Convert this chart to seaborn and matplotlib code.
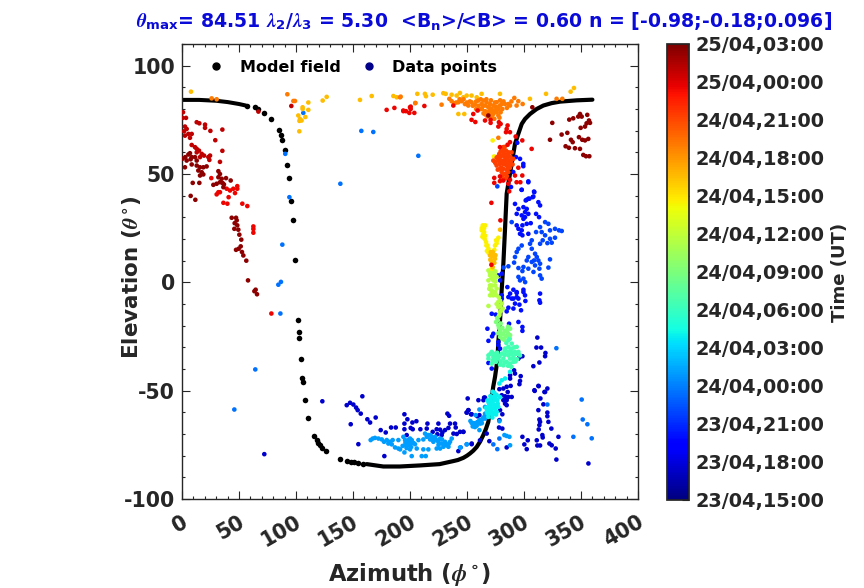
import numpy as np
import pandas as pd
import seaborn as sns
import matplotlib.pyplot as plt
from matplotlib.cm import ScalarMappable
from matplotlib.colors import Normalize
from matplotlib.lines import Line2D
from matplotlib.ticker import MultipleLocator
from matplotlib.transforms import ScaledTranslation

# model field, sparse flanks are single dots, dense parts are joined
model_dots = [(57, 81.6), (64, 80.8), (67, 80), (72.2, 78.2), (78.4, 75.4), (84.8, 70.4), (86.8, 67.9), (88, 65.8),
              (90.6, 61), (92.4, 54.2), (94.1, 48.2), (95.9, 37.6), (97.6, 28.9), (99.4, 10.4), (102, -17.2),
              (102.9, -22.9), (102.9, -25.5), (104.7, -35.6), (105.5, -44.1), (106.4, -46.2), (108.2, -54.5),
              (110.8, -62.8), (116, -71.1), (118.1, -72.8), (119.6, -74), (121, -75.3), (123, -76.4), (126.6, -78),
              (138.9, -81.7), (144.5, -82.6), (148, -82.8), (150.9, -83.1), (154.7, -83.4), (158.5, -83.7)]
model_top = [(0, 84.2), (15, 84.2), (30, 83.8), (40, 83.2), (50, 82.3), (56, 81.6)]
model_bottom = [(162, -83.9), (176.6, -85), (191, -85), (209, -84.5), (226, -83.9), (238, -82.5), (242, -82), (246.8, -81),
                (250, -80), (252.6, -79), (255.5, -77.7), (258.5, -76), (261.5, -73.5), (264.3, -70.5), (266.7, -67.5),
                (268.7, -64.4), (271, -56), (273, -48.2), (274.6, -43.6), (276.6, -36), (277.6, -26.7), (279, -17.5),
                (280.4, -3.7), (281.9, 8.6), (283.3, 24), (284.8, 40.9), (287.7, 50.1), (292.1, 63.9), (295, 68.5),
                (298, 73.1), (300.9, 75.4), (305.3, 77.7), (311.1, 80), (317, 81.6), (324.2, 82.7), (331.6, 83.4),
                (346.2, 84), (360, 84.3)]

# data points per time, hours after 23/04 15:00
navy = [(72.2, -79.3), (123.1, -54.9), (158.2, -52.6), (144.5, -56.7), (147.4, -55.6), (150.3, -56.4), (152.7, -57.8),
        (154.1, -59), (156.8, -60.6), (162.6, -63.2), (165, -64.7), (169.9, -62.4), (148, -65.5), (154.7, -74.7),
        (177.5, -80.2), (174.3, -68.2), (178.7, -69.3), (183.4, -67), (187.5, -67), (195.1, -60.9), (197.7, -63.2),
        (195.1, -65.2), (195.1, -67.8), (202.1, -64.7), (205.6, -64.1), (200.6, -67.2), (202.4, -67.8), (197.1, -70.5),
        (209.1, -67.8), (215.3, -65.2), (214.7, -67.5), (219.9, -69), (223.4, -67.8), (224.9, -65.2), (226.4, -68),
        (228.4, -69.3), (224, -70.1), (227.8, -70.5), (230.7, -68.2), (232.8, -60.6), (234.3, -61.6), (233.7, -67.2),
        (235.1, -65.2), (239.5, -65.2), (240.1, -67), (238.1, -69.8), (241, -70), (243.9, -69), (246.8, -69),
        (250.6, -53.6), (260, -54.4), (249.8, -60.1), (251.2, -59), (254.1, -60.9), (259.1, -61.8), (242.4, -77.9),
        (254.1, -74.4), (311.7, -25.5), (310.9, -30.1), (315, -30.1), (318.8, -32.6), (318.5, -34.1), (313.5, -37),
        (308.2, -38.7), (296.5, -34.4), (298.6, -34.1), (295.1, -35.2), (291.3, -40.6), (292.1, -42.1), (287.8, -42.9),
        (287.8, -44.4), (297.1, -43.3), (296.5, -45.5), (296, -47), (284.8, -48.2), (288.3, -47.8), (278.4, -49.3),
        (285.7, -50.6), (312.9, -47.9), (309.4, -50.1), (318.5, -50.6), (320.5, -49), (283.4, -52.6), (286.3, -52.9),
        (289.2, -52.9), (284.8, -53.6), (265, -53.2), (264.4, -54.4), (265.8, -53.2), (281.9, -49), (280.5, -52.1),
        (281.9, -54.4), (284.8, -54.4), (283.4, -56), (284.8, -56.7), (251.2, -59), (249.7, -60.1), (253.5, -60.9),
        (260.9, -61.3), (265, -62.4), (279, -59), (281, -60.9), (278.4, -63.6), (278.1, -67), (281, -67.5),
        (246.8, -69), (267.3, -69.8), (269.6, -73.3), (261.4, -72.9), (254.1, -74.7), (284.8, -76.2), (298.6, -71.3),
        (303.3, -72.9), (300.3, -74.8), (302.4, -77), (311.2, -72.9), (311.7, -75.3), (314.1, -75.3), (316.1, -70.5),
        (316.4, -71.6), (322.3, -74.4), (324.3, -75.2), (327.8, -76.7), (330.2, -71.3), (324, -67.5), (328.4, -81.8),
        (356.5, -83.6), (312.6, -47.8), (309.1, -49.8), (317.9, -50.6), (314.4, -53.6), (317, -56.3), (312.6, -59),
        (320.5, -60.1), (320.5, -61.8), (313.5, -63.3), (321.4, -64.4), (314.1, -64.4), (313.5, -65.9), (312.9, -67.9)]
blue5 = [(294.1, 64.4), (293, 57.8), (296.5, 57), (299.4, 54.7), (299.4, 53.6), (290.6, 50.9), (303.8, 46.6),
         (297.9, 42.7), (288.6, 44), (309, 41.6), (308.2, 39.6), (304.7, 38.6), (302.3, 38.1), (298, 42.7),
         (303.8, 46.2), (308.8, 41.9), (307.6, 39.3), (303.8, 38.6), (301.5, 37.8), (312.6, 37), (314.1, 35.5),
         (292.1, 36.2), (295.1, 33.9), (299.5, 34.7), (302.4, 33.9), (300.9, 32.4), (303.8, 31.6), (298, 30.9),
         (293.6, 31.6), (300.9, 30.1), (299.5, 29.3), (310.6, 31.6), (313.2, 30.1), (293.6, 26.3), (298.6, 26.3),
         (302.4, 27), (305.9, 27.3), (295.1, 24.7), (298, 24), (296.5, 22.4), (298.6, 21.7), (303.8, 22.4),
         (285.4, -2.2), (290.7, -3.4), (299.5, -3.4), (293.6, -4.5), (287.8, -5.2), (314.1, -5.2), (300.9, -6),
         (314.1, -9.4), (280.5, -6), (286.3, -6.8), (290.7, -7.5), (295.1, -7.5), (267.9, -21.4), (271.7, -14.5),
         (275.2, -14.9), (295.1, -18.3), (286.9, -19.1), (298.6, -20.6), (298.6, -22.4), (273.1, -23.7), (272, -24.9),
         (268.8, -27), (277.5, -27.5), (279, -30.6), (277.5, -29), (286.3, -11.7), (284.8, -13.4), (290.7, -12.1),
         (297.4, -12.9), (292.1, -9.8), (296, -10.3), (301.2, -8.6), (289.2, -7.5), (293.6, -6.8), (313.5, -8.3),
         (299.5, -4.5), (293.6, -4.9), (280.5, -7.5), (268.8, -37.2), (271.7, -39.8), (280.5, 4), (279, 0.9), (277.5, 3.2)]
blue7 = [(289.2, 27.8), (318.5, 27.8), (321.4, 27), (322.8, 24), (327.2, 24.7), (330.7, 24), (333.1, 23.7), (314.1, 25.5),
         (315.5, 23.2), (310.6, 23.2), (318.5, 21.7), (322.8, 20.1), (327.2, 20.6), (316.4, 19.4), (314.1, 17.8),
         (320.5, 18.1), (324.3, 18.3), (306.8, 19.4), (305.3, 17.8), (298, 17), (295.1, 15.5), (293.6, 14), (292.1, 11.7),
         (306.8, 15.5), (303.8, 11.7), (302.4, 10.1), (309.7, 13.2), (311.2, 11.7), (308.8, 10.1), (312.6, 10.1),
         (306.8, 9.4), (314.1, 8.6), (309.7, 7.8), (299.5, 7.1), (295.1, 6.6), (303.8, 6.3), (313.5, 6.3), (322.8, 10.6),
         (321.4, 6.8), (291.3, 9.1), (286.3, 7.4), (282, 6.8), (298.6, 5.2), (308.3, 4.8), (314.1, 3.2), (315.5, 1.7),
         (295.1, 2.5), (299.5, 1.7), (296.5, 0.9), (301, 0.1), (276.6, 44.3)]
blue9 = [(86.3, -14.4), (64.3, -40.2), (45.9, -58.7), (90.6, 59.3), (94.2, 39.3), (88, 17.4), (86.8, 0.2), (84.5, -1.1),
         (138.9, 45.5), (157.3, 69.9), (167.8, 69.4), (207.3, 58.4), (106.4, 78.2), (328.4, -30.4), (320.5, -56.4),
         (350.6, -54.1), (351.5, -63.3), (355.6, -65.5), (359.4, -72), (343.3, -71.3), (278.4, -72.1), (273.1, -74.8),
         (276.6, -77), (249.7, -74.8), (244.5, -76.2)]
sky = [(287.8, -75.2), (282.8, -70.5), (284.8, -70.9), (287.2, -71.3), (254.1, -64.9), (257.1, -65.5), (260, -64.4),
       (262.9, -63.6), (265.8, -62.9), (255.6, -65.9), (258.5, -66.2), (261.4, -65.2), (257.6, -61.3), (260.9, -58.7),
       (265.8, -57.5), (265.8, -60.6), (278.4, -64.1), (260.9, -68.2), (165.5, -72.8), (167.3, -72.1), (169.3, -71.8),
       (172.3, -72.1), (175.2, -72.5), (177.2, -73.6), (179.6, -72.8), (181, -74.4), (184, -74.8), (182.5, -73.6),
       (184.8, -72.8), (186.9, -76.2), (189.8, -76.7), (191.3, -77.1), (189.8, -72.8), (194.2, -71.3), (195.7, -72.8),
       (197.1, -73.6), (198.6, -72.8), (200, -72.1), (201.5, -72.8), (195.7, -75.2), (198.6, -75.2), (200.6, -74.4),
       (203, -74.1), (204.4, -74.7), (207.4, -72.8), (211.7, -72.5), (205.9, -76.7), (200, -77.1), (195.1, -78.5),
       (201.5, -80.2), (210.3, -80.2), (213.8, -80.2), (211.7, -77.1), (216.1, -77.1), (213.2, -69.8), (216.1, -70.5),
       (219.1, -71.3), (214.7, -71.3), (217.6, -72.5), (220.5, -73.6), (223.4, -72.8), (222, -71.3), (224.9, -73.6),
       (226.4, -72.1), (227.8, -74.4), (230.7, -73.6), (232.2, -75.2), (235.1, -73.6), (236.6, -72.1), (223.4, -76.7),
       (226.4, -76.7), (229.3, -75.9), (233.7, -75.9), (249.8, -74.7), (243.9, -76.2), (256, -65), (259, -64.5), (261, -63.5),
       (263, -65), (264, -62.5), (266, -61.5), (253, -64), (255, -66.5), (257, -66.8), (196, -74), (199, -74), (197, -76.5),
       (201, -76), (219, -72.5), (221, -72), (218, -70.5), (225, -75), (228, -72.5), (231, -75), (234, -74.5), (193.5, -75.5)]
cyan = [(287.8, -41.3), (283.4, -44.4), (280.5, -45.2), (278.4, -46.7), (270.2, -54.4), (271.7, -56), (274.6, -54.4),
        (268.8, -58.3), (271.7, -58.3), (275.5, -56.7), (276.1, -59.8), (273.1, -60.6), (270.2, -60.6), (268.8, -62.1),
        (272.3, -62.4), (277.5, -57.5), (273.1, -52.9), (276.6, -54.4), (266.7, -57.9), (274.6, -58.3), (272.5, -50.5),
        (270.5, -52.5), (268, -54.5), (273.5, -56.5), (269.5, -56.5), (269, -55.5), (270.5, -57.5), (272.5, -55), (273, -57.5),
        (274.5, -60), (271.5, -59.5), (272.5, -61), (269.5, -59), (275, -53), (274, -51), (276, -52), (271, -53.5), (268, -60.5),
        (267.5, -59.5), (275.5, -61), (277, -56), (279, -53)]
teal = [(286.3, -26.7), (289.2, -28.3), (293.6, -29.8), (283.4, -30.6), (286.3, -29.8), (289.2, -30.6), (292.1, -32.1),
        (295.1, -32.1), (296.5, -33.7), (280.5, -32.9), (276.1, -33.7), (271.7, -32.1), (268.8, -33.7), (268.8, -35.2),
        (273.1, -34.4), (277.5, -35.2), (281.9, -35.2), (286.3, -33.7), (287.8, -35.2), (290.7, -34.4), (284.8, -36.7),
        (281.9, -38.3), (287.8, -37.5), (290.7, -36.7), (271.7, -37.5), (275.5, -36.7), (270.5, -33), (272.5, -36), (274, -33),
        (275, -35), (276.5, -32.5), (278.5, -34), (279.5, -36.5), (283, -33.5), (283, -31.5), (285, -32), (288, -31.5), (290, -32.5),
        (291.5, -30), (293, -33), (294, -35.5), (288.5, -33), (284.5, -28), (287.5, -26), (285.5, -24.5), (283, -37), (279, -38),
        (289, -39), (286, -38.5), (291, -35.5), (292.5, -36.5)]
green = [(275.5, -18.3), (277.5, -19.8), (279, -22.1), (280.5, -23.7), (284.8, -22.1), (287.8, -21.4), (287.8, -24.4),
         (279, -25.2), (276.5, -16.5), (282.5, -26.5), (277, -17.5), (278, -21), (279.5, -19), (281, -21), (282, -24), (283, -22.5),
         (284, -25), (286, -23.5), (286, -20.5), (281, -26), (277.5, -23.5), (278, -15.5)]
lime = [(268.8, 5.5), (273.1, 5.5), (270.2, 3.2), (274.6, 3.2), (268.8, 0.9), (273.1, 0.9), (276, 2.5), (270.2, -1.4),
        (274.6, -1.4), (271.7, -3.7), (276, -2.9), (271.7, -4.5), (274.6, -4.5), (270.2, -6), (273.1, -6), (277.5, -9),
        (280.5, -9.8), (277.5, -11.4), (281.3, -12.1), (279, -13.7), (268.8, -10.9), (269.5, -3), (272, -1.5), (273, 1.5),
        (271.5, 2), (270, 4.5), (272, 4), (275, 0.5), (275, 5), (276, -6), (278, -7), (279, -8.5), (276, -10), (279, -11),
        (280, -13), (278.5, -15)]
yellow = [(263.8, 26.3), (266, 26.3), (262.9, 24), (265, 23.2), (264.4, 20.9), (266.7, 18.6), (268.8, 15.5), (275.5, 19.4),
          (277.5, 20.6), (274.6, 17), (273.1, 9.4), (271.7, 6.3), (272.5, 65.5), (273.7, 58.1), (263, 25), (265, 25), (264, 22),
          (263.5, 21), (265.5, 20), (266, 21.5), (267, 17), (268, 17), (267.5, 14.5), (269, 13.5), (276, 18), (276.5, 19.5),
          (274, 15), (273.5, 13)]
amber = [(7.9, 88), (102.9, 69.7), (102, 77), (103.5, 75.4), (104.9, 74.7), (103, 74.5), (108.2, 76.3), (110.8, 79.6),
         (110.8, 83), (105.8, 80.8), (105.8, 80), (123.4, 83.9), (126.9, 85.6), (156.1, 84.2), (166.4, 86), (185.4, 86),
         (188.3, 85.4), (206.4, 87), (213.1, 87), (214, 85.9), (219.9, 86.6), (229.2, 87.3), (231.3, 87), (236.5, 86.6),
         (243.8, 87.4), (242.4, 77.7), (247.6, 77.7), (278.9, 87), (305.2, 84.7), (319.3, 87), (340.9, 88), (343.8, 89.7),
         (262.8, 87), (258.5, 85.4), (254, 86.2), (249.7, 86.2), (246.8, 85.4), (240.9, 86.2), (279, 24.3), (272.6, 14),
         (270.2, 12.4), (274.6, 10.9), (271, 10), (272, 12), (271, 14), (273, 12), (270.5, 10.5), (272, 9), (274, 9), (272.5, 7),
         (275, 12.5)]
orange = [(26, 84.9), (30.4, 84.5), (92.4, 86.8), (97.7, 83.7), (99.1, 83.7), (191.2, 85.4), (204.7, 82.8), (227.7, 82),
          (234.5, 84.7), (236.5, 83.6), (238.6, 82.7), (242.4, 83.1), (245.3, 83.6), (248.2, 82.3), (251.1, 81.6),
          (254, 83.1), (257, 82), (259.9, 83.9), (262.8, 82.3), (264.3, 83.9), (265.8, 81.6), (267.2, 83.1), (268.7, 80.8),
          (270.1, 82.3), (271.6, 80), (273.1, 81.6), (274.5, 79.3), (276, 83.1), (277.5, 80.8), (278.9, 81.6), (280.4, 82.3),
          (283.3, 82.3), (286.2, 82.3), (287.7, 81.6), (291.5, 85.1), (293.5, 81.6), (295, 83.6), (298.8, 82.3), (328.6, 84.7),
          (333.6, 84.7), (204.6, 82.7), (191.8, 85.7), (268.7, 78.5), (270.7, 77.7), (273.1, 77.7), (277.5, 77), (277.5, 80),
          (261.4, 80), (277.5, 66.7), (266, 79), (272, 79), (269, 81), (275, 81), (258, 80), (260, 81.5), (263, 80), (264.5, 78),
          (266, 77.5), (268, 76.5), (270, 79.5), (272, 76), (274, 75.5), (276, 78.5), (278.5, 76), (279.5, 78.5), (281, 80),
          (262, 84.5), (258, 83.5), (255, 81.5), (252.5, 83.5), (250, 83), (247, 84.5), (243.5, 84.5), (240.5, 83), (267, 84.5),
          (271, 84), (274.5, 83), (279, 84), (282, 83.5), (285, 80.5), (289, 83.5), (264, 81.5)]
vermilion = [(278.9, 57.8), (281.8, 60.1), (284.2, 60.8), (286.2, 58.5), (289.1, 60), (290.6, 57), (287.7, 56.2),
             (284.8, 56.2), (283.3, 57.8), (280.4, 56.2), (277.5, 56.2), (274.5, 55.5), (273.1, 56.2), (276, 53.9),
             (278.9, 54.7), (281.8, 54.7), (284.8, 53.9), (287.7, 54.7), (290, 54.4), (278.9, 52.4), (281.8, 52.4),
             (284.8, 51.9), (287.7, 52.9), (283.3, 50.1), (280.4, 50.9), (286.2, 50.9), (278.3, 59.3), (281.8, 62.4),
             (282.4, 56.2), (280.4, 58.5), (285.3, 57.5), (279.5, 55.5), (283, 54.5), (285.5, 55.5), (282, 58.5), (279, 56), (280, 53),
             (282, 55), (283.5, 56), (284, 59), (282, 61), (279.5, 60.5), (277, 58), (276, 57.5), (275, 55), (277, 52), (281, 49),
             (285, 49), (286, 53), (288.5, 56), (288, 58), (283, 62.5), (286.5, 60), (280, 47.5), (284, 48)]
red = [(78.4, -14.4), (62.6, 25.8), (62.6, 24.6), (62.6, 22.9), (179.5, 79.6), (186.3, 80.5), (194.2, 79), (196.5, 79),
       (199.4, 78.2), (203.8, 78.2), (200.6, 80), (200.6, 81.1), (212.6, 81.4), (194.1, 79.3), (200, 80.8), (238, 81.6),
       (255.5, 77.7), (254, 75), (257.3, 74), (259.3, 79.3), (265.8, 74.7), (270.7, 75), (270.7, 73.6), (278, 73.9),
       (277.5, 71.9), (279.5, 73.1), (285.6, 72.4), (284.8, 70.8), (284.2, 69.3), (287.7, 69.3), (292.7, 67.3), (298.5, 65.5),
       (287.7, 64.7), (285.6, 63.5), (306.7, 61.6), (278.9, 62.4), (273.9, 48.2), (273.9, 45.9), (278.9, 48.9), (278.9, 46.7),
       (281.8, 47), (287.7, 47.3), (292.1, 49.3), (293.5, 46.2), (296.8, 46.2), (295, 52.9), (298.5, 49.3), (286.2, 45.5),
       (271.4, 36.7), (279.3, 28.6), (271.4, 8.1), (287, 42), (25.7, 48.1), (39.2, 43.2), (42.1, 42.4), (45, 43.2), (48.5, 44.4),
       (46.5, 41.2), (48.5, 43.2), (40.9, 39.3), (30.4, 40.6), (31.9, 41.6), (33.3, 41.6), (36.3, 36.7), (39.8, 36.3),
       (52.9, 36.3), (57.3, 35.2)]
crimson = [(0.9, 78.5), (0.6, 75.9), (3.5, 75.9), (12.9, 73.9), (15.2, 73.4), (20.2, 72.8), (20.2, 71.3), (24.9, 69.9),
           (35.4, 70.5), (29.2, 65.6), (35.4, 60.7), (33.3, 55.6), (2.6, 71.9), (4.1, 70.8), (1.8, 69.7), (5.6, 68.5), (2.6, 67.7),
           (8.5, 68.5), (7, 66.7), (8.5, 63.4), (11.4, 62.4), (12.9, 61.6), (14.9, 60.8), (12.9, 60), (17.3, 59.3), (15.8, 57.8),
           (19.3, 58.5), (23.1, 57.8), (24.6, 58.5), (24, 56.5), (67, 78.8), (95.9, 81.4)]
maroon = [(0.6, 57.1), (2.9, 57.8), (5.6, 59), (7, 59.6), (8.5, 57.8), (11.4, 57.8), (4.1, 56.2), (7.6, 56.8), (12.9, 56.2),
          (2.6, 53.1), (8.5, 54.4), (12.9, 53.9), (15.8, 53.1), (18.7, 53.1), (14.3, 51.6), (17.3, 50.8), (18.7, 49.8), (15.8, 49.3),
          (9.4, 45.9), (15.2, 45.9), (7.6, 39.9), (11.7, 38.1), (21.6, 53.5), (27.5, 45), (30.4, 45.5), (31.9, 48.5), (33.3, 50),
          (34.8, 47.8), (35.7, 45.8), (33.3, 46.2), (36.8, 45.2), (38.6, 48.1), (36.3, 43.9), (31.9, 51.3), (42.7, 47), (43.6, 29.8),
          (47.4, 29.8), (48, 28.6), (46.2, 27.3), (48.5, 26.3), (45.9, 24.7), (49.4, 24.3), (50.3, 22), (52, 19.7), (47.4, 15),
          (49.7, 15.5), (51.5, 16.6), (52.6, 14), (53.8, 12.4), (56.4, 10), (57.9, 0.9), (64.6, -3.4), (63.5, -4.1), (65.8, -5.5),
          (268.7, 77), (307.3, 80.8), (324.8, 73.6), (322.8, 65.8), (333, 68.2), (338, 69), (339.7, 75.1), (343.2, 75.7), (347.6, 76.5),
          (349.1, 77.7), (350.6, 76.5), (355.5, 77.3), (357, 74.7), (354.9, 73.4), (353.5, 71.9), (349.7, 71.3), (357.9, 73.6),
          (341.2, 65.8), (342.7, 64.7), (348.2, 67), (351.1, 65.8), (353.5, 65.5), (356.4, 66.2), (336.5, 62.8), (339.4, 62.1),
          (344.7, 61.9), (349.1, 61.6), (352, 58.8), (354.4, 58.2), (357.3, 58.2)]

groups = [navy, blue5, blue7, blue9, sky, cyan, teal, green, lime, yellow, amber, orange, vermilion, red, crimson, maroon]
group_hours = [2.5, 5, 7, 8.5, 10, 13, 15.5, 18, 20.5, 23.5, 25.5, 28, 30.3, 32.5, 34, 35.5]
time_labels = ["23/04,15:00", "23/04,18:00", "23/04,21:00", "24/04,00:00", "24/04,03:00", "24/04,06:00", "24/04,09:00",
               "24/04,12:00", "24/04,15:00", "24/04,18:00", "24/04,21:00", "25/04,00:00", "25/04,03:00"]

rows = []
for pts, hour in zip(groups, group_hours):
    for az, el in pts:
        rows.append({"az": az, "el": el, "hour": hour})
data = pd.DataFrame(rows)
dots = pd.DataFrame(model_dots, columns=["az", "el"])
top = pd.DataFrame(model_top, columns=["az", "el"])
bottom = pd.DataFrame(model_bottom, columns=["az", "el"])

sns.set_theme(style="ticks")
plt.rcParams["font.weight"] = "bold"
plt.rcParams["axes.unicode_minus"] = False
plt.rcParams["mathtext.fontset"] = "custom"
plt.rcParams["mathtext.it"] = "STIXGeneral:italic"
plt.rcParams["mathtext.rm"] = "DejaVu Sans:bold"
plt.rcParams["mathtext.bf"] = "DejaVu Sans:bold"
plt.rcParams["mathtext.default"] = "it"

jet = plt.get_cmap("jet")

fig = plt.figure(figsize=(8.64, 5.88), dpi=100)
ax = fig.add_axes([182 / 864, 1 - 499 / 588, 456 / 864, 455 / 588])

sns.lineplot(data=top, x="az", y="el", color="black", linewidth=2.9, sort=False, estimator=None, ax=ax)
sns.lineplot(data=bottom, x="az", y="el", color="black", linewidth=3.0, sort=False, estimator=None, ax=ax)
sns.scatterplot(data=dots, x="az", y="el", color="black", s=16, linewidth=0, ax=ax, zorder=3)
sns.scatterplot(data=data, x="az", y="el", hue="hour", palette=jet, hue_norm=(0, 36), s=11, linewidth=0,
                legend=False, ax=ax, zorder=4)

ax.set_xlim(0, 400)
ax.set_ylim(-100, 110)
ax.xaxis.set_major_locator(MultipleLocator(50))
ax.xaxis.set_minor_locator(MultipleLocator(10))
ax.yaxis.set_minor_locator(MultipleLocator(10))
ax.set_yticks([-100, -50, 0, 50, 100])
ax.tick_params(which="major", direction="in", length=5.5, width=0.8, top=True, right=True, labelsize=14.8, pad=5)
ax.tick_params(which="minor", direction="in", length=2.5, width=0.8, top=True, right=True)
ax.tick_params(axis="x", which="major", pad=9.5)
# rotated labels hang left of their tick
shift = ScaledTranslation(9 / 100, 0, fig.dpi_scale_trans)
for lab in ax.get_xticklabels():
    lab.set_rotation(30)
    lab.set_ha("right")
    lab.set_fontweight("bold")
    lab.set_transform(lab.get_transform() + shift)
plt.setp(ax.get_yticklabels(), fontweight="bold")
for sp in ax.spines.values():
    sp.set_visible(True)
    sp.set_linewidth(1.0)
ax.set_xlabel(r"Azimuth ($\phi^{\circ}$)", fontsize=16.3, fontweight="bold")
ax.set_ylabel(r"Elevation ($\theta^{\circ}$)", fontsize=15.5, fontweight="bold")
ax.xaxis.set_label_coords(0.498, -0.136)
ax.yaxis.set_label_coords(-0.0855, 0.488)

handles = [Line2D([], [], marker="o", ls="", color="black", markersize=5, label="Model field"),
           Line2D([], [], marker="o", ls="", color="#00008b", markersize=5, label="Data points")]
ax.legend(handles=handles, ncol=2, frameon=False, loc="upper left", bbox_to_anchor=(0.009, 0.997),
          prop={"size": 11.5, "weight": "bold"}, columnspacing=0.8, handletextpad=0.45, labelcolor="black")

fig.text(484 / 864, 1 - 22 / 588,
         r"$\theta_{\mathbf{max}}$= 84.51 $\lambda_{\mathbf{2}}/\lambda_{\mathbf{3}}$ = 5.30  <$\mathbf{B_{n}}$>/<B> = 0.60 n = [-0.98;-0.18;0.096]",
         color="#0b0bd9", fontsize=13.6, fontweight="bold", ha="center", va="center")

cax = fig.add_axes([667 / 864, 1 - 500 / 588, 22 / 864, 456 / 588])
cbar = fig.colorbar(ScalarMappable(norm=Normalize(0, 36), cmap=jet), cax=cax)
cbar.set_ticks(np.arange(0, 39, 3))
cbar.set_ticklabels(time_labels)
cax.tick_params(direction="in", length=5, width=0.8, labelsize=13.9, pad=5)
plt.setp(cax.get_yticklabels(), fontweight="bold")
fig.text(840 / 864, 1 - 272 / 588, "Time (UT)", rotation=90, fontsize=13, fontweight="bold",
         color="#262626", ha="center", va="center")

fig.savefig("out.png", dpi=100)
